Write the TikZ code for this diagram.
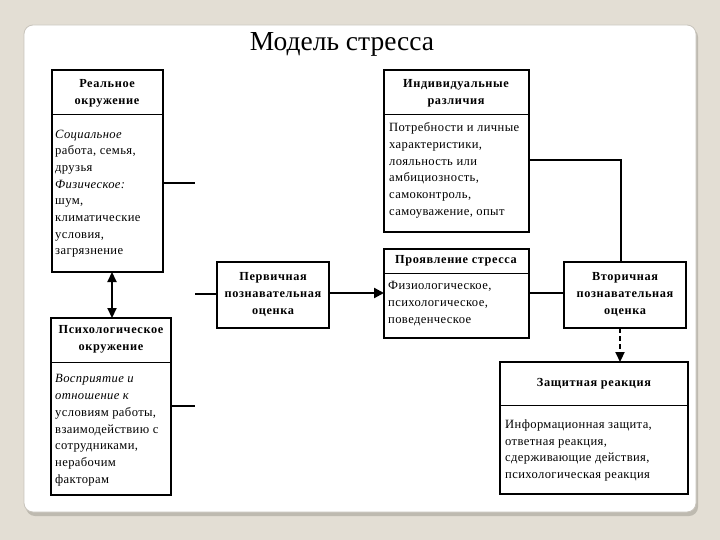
\documentclass[tikz,border=0pt]{standalone}
\usepackage{fontspec}
\setmainfont{Liberation Serif}
\newfontfamily\hdrfont[LetterSpace=5]{Liberation Serif}
\newfontfamily\bodyfont[LetterSpace=3]{Liberation Serif}
\usetikzlibrary{arrows.meta}
\definecolor{bgbeige}{RGB}{227,222,212}
\definecolor{paneledge}{RGB}{200,196,188}
\definecolor{shadowc}{RGB}{190,186,176}
\begin{document}
\begin{tikzpicture}[x=1pt,y=-1pt,
  box/.style={draw=black, line width=1.2pt, inner sep=0pt, outer sep=0pt, anchor=north west},
  hdr/.style={font=\hdrfont\fontsize{12.3}{17}\selectfont\bfseries, align=center, inner sep=0pt},
  body/.style={font=\bodyfont\fontsize{12.6}{16.7}\selectfont, align=left, inner sep=0pt, anchor=north west},
  conn/.style={line width=1.2pt},
  thickarrow/.style={line width=2.2pt, -{Triangle[length=10pt,width=10pt]}},
  dblarrow/.style={line width=2.2pt, {Triangle[length=10pt,width=9pt]}-{Triangle[length=10pt,width=9pt]}},
  dasharrow/.style={line width=2.2pt, dash pattern=on 5pt off 3pt, -{Triangle[length=10pt,width=9pt]}},
  divider/.style={line width=1pt}
]
\useasboundingbox (0,0) rectangle (720,540);
\fill[bgbeige] (0,0) rectangle (720,540);
% panel with shadow
\fill[shadowc, rounded corners=9pt] (26,28) rectangle (698,516);
\fill[white, draw=paneledge, line width=0.8pt, rounded corners=9pt] (24,25) rectangle (696,512);

% title
\node[font=\fontsize{27.5}{30}\selectfont, inner sep=0pt] (title) at (342,44) {Модель стресса};

% boxes
\node[box, minimum width=111, minimum height=202] (real) at (52,70) {};
\node[box, minimum width=145, minimum height=162] (indiv) at (384,70) {};
\node[box, minimum width=145, minimum height=89] (manif) at (384,249) {};
\node[box, minimum width=112, minimum height=66] (prim) at (217,262) {};
\node[box, minimum width=122, minimum height=66] (sec) at (564,262) {};
\node[box, minimum width=120, minimum height=177] (psych) at (51,318) {};
\node[box, minimum width=188, minimum height=132] (def) at (500,362) {};

% dividers
\coordinate (d1) at (0,115);
\coordinate (d2) at (0,273);
\coordinate (d3) at (0,362);
\coordinate (d4) at (0,405);
\draw[divider] (real.west |- d1) -- (real.east |- d1);
\draw[divider] (indiv.west |- d1) -- (indiv.east |- d1);
\draw[divider] (manif.west |- d2) -- (manif.east |- d2);
\draw[divider] (psych.west |- d3) -- (psych.east |- d3);
\draw[divider] (def.west |- d4) -- (def.east |- d4);

% headers
\node[hdr] (realh) at (107,93) {Реальное\\окружение};
\node[hdr] (indivh) at (456,93) {Индивидуальные\\различия};
\node[hdr] (manifh) at (456,261) {Проявление стресса};
\node[hdr] (primh) at (273,295) {Первичная\\познавательная\\оценка};
\node[hdr] (sech) at (625,295) {Вторичная\\познавательная\\оценка};
\node[hdr] (psychh) at (111,339) {Психологическое\\окружение};
\node[hdr] (defh) at (594,384) {Защитная реакция};

% bodies
\node[body] (realb) at (55,129.5) {\textit{Социальное}\\работа, семья,\\друзья\\\textit{Физическое:}\\шум,\\климатические\\условия,\\загрязнение};
\node[body] (indivb) at (389,122.5) {Потребности и личные\\характеристики,\\лояльность или\\амбициозность,\\самоконтроль,\\самоуважение, опыт};
\node[body] (manifb) at (388,281.5) {Физиологическое,\\психологическое,\\поведенческое};
\node[body] (psychb) at (55,374.5) {\textit{Восприятие и}\\\textit{отношение к}\\условиям работы,\\взаимодействию с\\сотрудниками,\\нерабочим\\факторам};
\node[body] (defb) at (505,419.5) {Информационная защита,\\ответная реакция,\\сдерживающие действия,\\психологическая реакция};

% connectors
\coordinate (s1) at (195,183);
\coordinate (s2) at (195,406);
\coordinate (s3) at (195,294);
\coordinate (r1) at (0,160);
\coordinate (r2) at (621,0);
\coordinate (a1) at (0,293);
\coordinate (v1) at (112,0);
\coordinate (v2) at (620,0);
\draw[conn] (real.east |- s1) -- (s1);
\draw[conn] (psych.east |- s2) -- (s2);
\draw[conn] (s3) -- (prim.west |- s3);
\draw[thickarrow] (prim.east |- a1) -- (manif.west |- a1);
\draw[conn] (manif.east |- a1) -- (sec.west |- a1);
\draw[conn] (indiv.east |- r1) -| (sec.north -| r2);
\draw[dblarrow] (real.south -| v1) -- (psych.north -| v1);
\draw[dasharrow] (sec.south -| v2) -- (def.north -| v2);
\end{tikzpicture}
\end{document}
